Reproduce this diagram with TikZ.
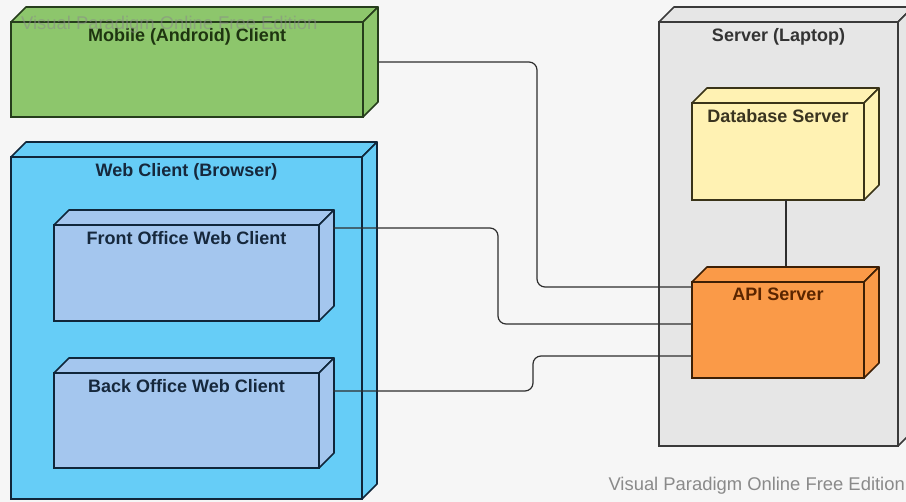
\documentclass[tikz,border=0pt]{standalone}
\usepackage{fontspec}
\setmainfont{Liberation Sans}
\definecolor{canvas}{HTML}{F6F6F6}
\definecolor{mobfill}{HTML}{8DC66C}
\definecolor{mobline}{HTML}{263D1C}
\definecolor{mobtext}{HTML}{1E3510}
\definecolor{webfill}{HTML}{66CDF7}
\definecolor{webline}{HTML}{10263A}
\definecolor{webtext}{HTML}{16283C}
\definecolor{subfill}{HTML}{A4C6EE}
\definecolor{srvfill}{HTML}{E6E6E6}
\definecolor{srvline}{HTML}{3A3A3A}
\definecolor{srvtext}{HTML}{333333}
\definecolor{dbfill}{HTML}{FFF2B3}
\definecolor{dbline}{HTML}{3A3418}
\definecolor{dbtext}{HTML}{3A3420}
\definecolor{apifill}{HTML}{FA9A48}
\definecolor{apiline}{HTML}{3D1F05}
\definecolor{apitext}{HTML}{5A2500}
\definecolor{wire}{HTML}{2E2E2E}
\definecolor{wmark}{HTML}{8A8A8A}

\tikzset{
  facebox/.style={rectangle, inner sep=0pt, outer sep=0pt, line width=1.6pt},
  sideface/.style={line width=1.6pt, line join=round},
  lbl/.style={inner sep=0pt, font=\bfseries\fontsize{18}{21}\selectfont},
  conn/.style={draw=wire, line width=1.2pt, rounded corners=8pt},
  wm/.style={inner sep=0pt, text=wmark, font=\fontsize{18.4}{21}\selectfont}
}

% 3D deployment node: name, left, top, right, bottom, fill, line, text colour, label
\newcommand{\depthbox}[9]{%
  \node[facebox, fill=#6, draw=#7, anchor=north west,
        minimum width={#4-#2}, minimum height={#5-#3}] (#1) at (#2,#3) {};
  \filldraw[sideface, fill=#6, draw=#7] (#1.north west) -- ++(15,-15)
      -- ++({#4-#2},0) -- (#1.north east) -- cycle;
  \filldraw[sideface, fill=#6, draw=#7] (#1.north east) -- ++(15,-15)
      -- ++(0,{#5-#3}) -- (#1.south east) -- cycle;
  \node[lbl, text=#8, anchor=north] (#1-label) at ([yshift=-6pt]#1.north) {#9};
}

\begin{document}
\begin{tikzpicture}[x=1pt, y=-1pt]
  \fill[canvas] (0,0) rectangle (906,502);
  \useasboundingbox (0,0) rectangle (906,502);

  % server side
  \depthbox{srv}{659}{22}{898}{446}{srvfill}{srvline}{srvtext}{Server (Laptop)}
  \depthbox{db}{692}{103}{864}{200}{dbfill}{dbline}{dbtext}{Database Server}
  \depthbox{api}{692}{282}{864}{378}{apifill}{apiline}{apitext}{API Server}

  % client side
  \depthbox{mob}{11}{22}{363}{117}{mobfill}{mobline}{mobtext}{Mobile (Android) Client}
  \depthbox{web}{11}{157}{362}{499}{webfill}{webline}{webtext}{Web Client (Browser)}
  \depthbox{fo}{54}{225}{319}{321}{subfill}{webline}{webtext}{Front Office Web Client}
  \depthbox{bo}{54}{373}{319}{468}{subfill}{webline}{webtext}{Back Office Web Client}

  % connections (leaving from the outer edge of each side face)
  \draw[conn] ([xshift=15pt]mob.east |- 0,62) -- (537,62) -- (537,287) -- (api.west |- 0,287);
  \draw[conn] ([xshift=14pt]fo.east |- 0,228) -- (498,228) -- (498,324) -- (api.west |- 0,324);
  \draw[conn] ([xshift=14pt]bo.east |- 0,391) -- (533,391) -- (533,356) -- (api.west |- 0,356);
  \draw[draw=wire, line width=1.2pt] (db.south -| 786,0) -- (786,266);

  % edition marks
  \node[wm, anchor=west, opacity=0.55] (wmtop) at (21,25) {Visual Paradigm Online Free Edition};
  \node[wm, anchor=east] (wmbottom) at (905,486) {Visual Paradigm Online Free Edition};
\end{tikzpicture}
\end{document}
